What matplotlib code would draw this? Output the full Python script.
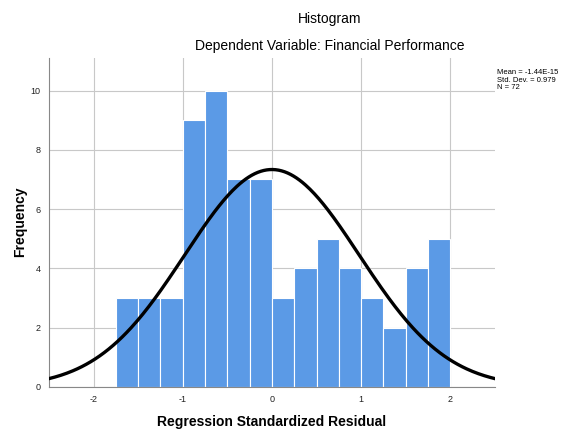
"""
Histogram of regression standardized residuals with normal curve (SPSS style).
"""

import matplotlib.pyplot as plt
import numpy as np

plt.rcParams["font.family"] = ["Liberation Sans", "DejaVu Sans"]
plt.rcParams["axes.unicode_minus"] = False

# --- Data --------------------------------------------------------------------
BIN_EDGES = [-1.75, -1.5, -1.25, -1.0, -0.75, -0.5, -0.25, 0.0,
             0.25, 0.5, 0.75, 1.0, 1.25, 1.5, 1.75, 2.0]
COUNTS = [3, 3, 3, 9, 10, 7, 7, 3, 4, 5, 4, 3, 2, 4, 5]
MEAN = -1.44e-15
STD_DEV = 0.979
N = 72
X_TICKS = [-2, -1, 0, 1, 2]
Y_TICKS = [0, 2, 4, 6, 8, 10]

# --- Plot --------------------------------------------------------------------
fig = plt.figure(figsize=(5.63, 4.29), dpi=100)
ax = fig.add_axes([0.087, 0.098, 0.792, 0.767])

edges = np.array(BIN_EDGES)
widths = np.diff(edges)
ax.bar(edges[:-1], COUNTS, width=widths, align="edge", color="#5b9ae6",
       edgecolor="white", linewidth=0.8, zorder=2)

# normal curve scaled to the histogram (N * bin width)
xs = np.linspace(-2.5, 2.5, 300)
bw = widths[0]
pdf = np.exp(-0.5 * ((xs - MEAN) / STD_DEV) ** 2) / (STD_DEV * np.sqrt(2 * np.pi))
ax.plot(xs, N * bw * pdf, color="black", linewidth=2.4, zorder=3)

ax.set_xlim(-2.5, 2.5)
ax.set_ylim(0, 11.1)
ax.set_xticks(X_TICKS)
ax.set_yticks(Y_TICKS)
ax.tick_params(length=0, labelsize=6.5, colors="#222222", pad=6)
ax.grid(color="#c8c8c8", linewidth=0.8, zorder=0)
ax.set_axisbelow(True)
for side in ("top", "right"):
    ax.spines[side].set_visible(False)
for side in ("left", "bottom"):
    ax.spines[side].set_color("#888888")
    ax.spines[side].set_linewidth(0.8)

# axis titles placed in figure pixels, as in the SPSS output
fig.text(272 / 563, 1 - 422 / 429, "Regression Standardized Residual",
         ha="center", va="center", fontsize=10, fontweight="bold")
fig.text(20 / 563, 1 - 222 / 429, "Frequency", rotation=90,
         ha="center", va="center", fontsize=10, fontweight="bold")

fig.text(0.586, 0.955, "Histogram", ha="center", va="center", fontsize=10)
fig.text(0.586, 0.893, "Dependent Variable: Financial Performance",
         ha="center", va="center", fontsize=10)

fig.text(497 / 563, 1 - 80 / 429,
         f"Mean = {MEAN:.2E}\nStd. Dev. = {STD_DEV}\nN = {N}",
         ha="left", va="center", fontsize=5.5, linespacing=1.05)

plt.savefig("out.png", dpi=100)
plt.close(fig)
